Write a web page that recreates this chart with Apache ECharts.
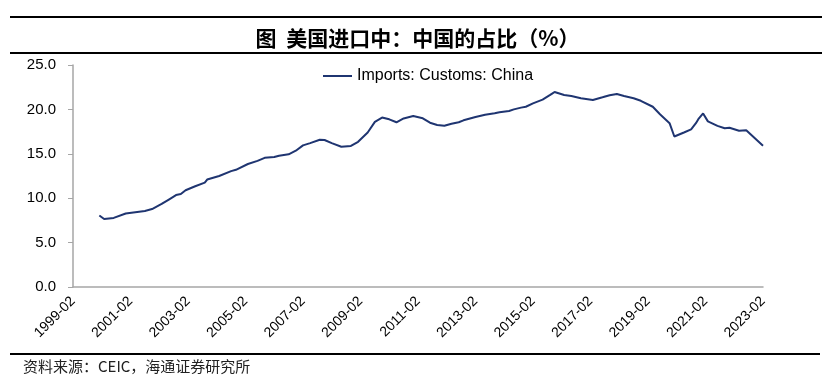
<!DOCTYPE html>
<html>
<head>
<meta charset="utf-8">
<script src="https://cdn.jsdelivr.net/npm/echarts@6/dist/echarts.min.js"></script>
<style>
html,body{margin:0;padding:0;background:#fff;}
#c{width:835px;height:379px;}
</style>
</head>
<body>
<div id="c"></div>
<script>
// Data (12-month share of US imports from China, %)
const dates = [
 "2000-01","2000-03","2000-07","2000-12","2001-04","2001-08","2001-11","2002-03","2002-06","2002-09",
 "2002-11","2003-01","2003-05","2003-09","2003-10","2004-03","2004-08","2004-10","2005-03","2005-07",
 "2005-10","2006-02","2006-04","2006-08","2006-11","2007-02","2007-05","2007-09","2007-11","2008-02",
 "2008-06","2008-10","2009-01","2009-05","2009-08","2009-11","2010-02","2010-05","2010-08","2010-12",
 "2011-04","2011-07","2011-10","2012-01","2012-04","2012-07","2012-09","2013-02","2013-06","2013-10",
 "2013-12","2014-04","2014-06","2014-09","2014-11","2015-02","2015-06","2015-09","2015-10","2015-11",
 "2016-03","2016-06","2016-10","2017-03","2017-07","2017-10","2018-01","2018-04","2018-08","2018-11",
 "2019-04","2019-07","2019-11","2020-01","2020-05","2020-08","2020-10","2020-11","2021-01","2021-03",
 "2021-07","2021-10","2021-12","2022-04","2022-07","2023-02"
];
const shareChina = [
 8.05,7.65,7.78,8.28,8.42,8.56,8.78,9.35,9.85,10.35,
 10.47,10.9,11.35,11.75,12.1,12.5,13.05,13.2,13.85,14.2,
 14.55,14.64,14.78,14.94,15.35,15.95,16.2,16.58,16.55,16.2,
 15.8,15.88,16.35,17.4,18.6,19.08,18.88,18.55,18.98,19.25,
 19.0,18.5,18.25,18.15,18.38,18.55,18.77,19.15,19.4,19.56,
 19.68,19.82,20.0,20.2,20.3,20.68,21.1,21.6,21.78,21.96,
 21.62,21.5,21.25,21.06,21.36,21.59,21.73,21.5,21.25,20.97,
 20.3,19.45,18.45,16.95,17.4,17.75,18.45,18.9,19.55,18.65,
 18.15,17.88,17.94,17.6,17.65,15.9
];
const yTicks = [0,5,10,15,20,25];
const startYear = 1999, startMonth = 2;
const seriesName = "Imports: Customs: China";
const titleText = "图  美国进口中：中国的占比（%）";
const sourceText = "资料来源：CEIC，海通证券研究所";

function monthIndex(s){
  const [y,m] = s.split("-").map(Number);
  return (y - startYear) * 12 + (m - startMonth);
}
const points = dates.map((d,i)=>[monthIndex(d), shareChina[i]]);
const lastIdx = monthIndex("2023-02");

const chart = echarts.init(document.getElementById('c'));
chart.setOption({
  animation:false,
  backgroundColor:'#fff',
  title:{
    text:titleText, left:'center', top:23,
    textStyle:{fontFamily:'"Noto Sans CJK SC"', fontWeight:'bold', fontSize:21, color:'#000'}
  },
  legend:{
    top:63, left:318, itemWidth:29, itemHeight:2, itemGap:5,
    icon:'rect',
    textStyle:{fontFamily:'"Liberation Sans", Arial', fontSize:16, color:'#000'},
    data:[seriesName]
  },
  graphic:[
    {type:'line', shape:{x1:10,y1:17,x2:822,y2:17}, style:{stroke:'#000', lineWidth:2}},
    {type:'line', shape:{x1:10,y1:53,x2:822,y2:53}, style:{stroke:'#000', lineWidth:2}},
    {type:'line', shape:{x1:10,y1:354,x2:820,y2:354}, style:{stroke:'#000', lineWidth:2}},
    {type:'text', left:23, top:359, style:{text:sourceText, fontFamily:'"Noto Sans CJK SC"', fontSize:15, fill:'#222'}}
  ],
  grid:{left:73, right:72, top:65, bottom:92, containLabel:false},
  xAxis:{
    type:'value', min:0, max:lastIdx, interval:24,
    axisLine:{show:true, lineStyle:{color:'#a6a6a6', width:1.5}},
    axisTick:{show:false},
    splitLine:{show:false},
    axisLabel:{
      rotate:45, margin:12, fontFamily:'"Liberation Sans", Arial', fontSize:14, color:'#000',
      formatter:function(v){ const y = startYear + Math.floor((v + startMonth - 1)/12); const m = ((v + startMonth - 1)%12)+1; return y + '-' + String(m).padStart(2,'0'); }
    }
  },
  yAxis:{
    type:'value', min:0, max:25, interval:5,
    axisLine:{show:true, lineStyle:{color:'#a6a6a6', width:1.5}},
    axisTick:{show:true, length:5, lineStyle:{color:'#a6a6a6'}},
    splitLine:{show:false},
    axisLabel:{margin:17, fontFamily:'"Liberation Sans", Arial', fontSize:15, color:'#000',
      formatter:function(v){ return yTicks.indexOf(v) >= 0 ? v.toFixed(1) : ''; }}
  },
  series:[{
    name:seriesName, type:'line', data:points, showSymbol:false, smooth:false,
    lineStyle:{color:'#1f3571', width:2}, itemStyle:{color:'#1f3571'}
  }]
});
</script>
</body>
</html>
